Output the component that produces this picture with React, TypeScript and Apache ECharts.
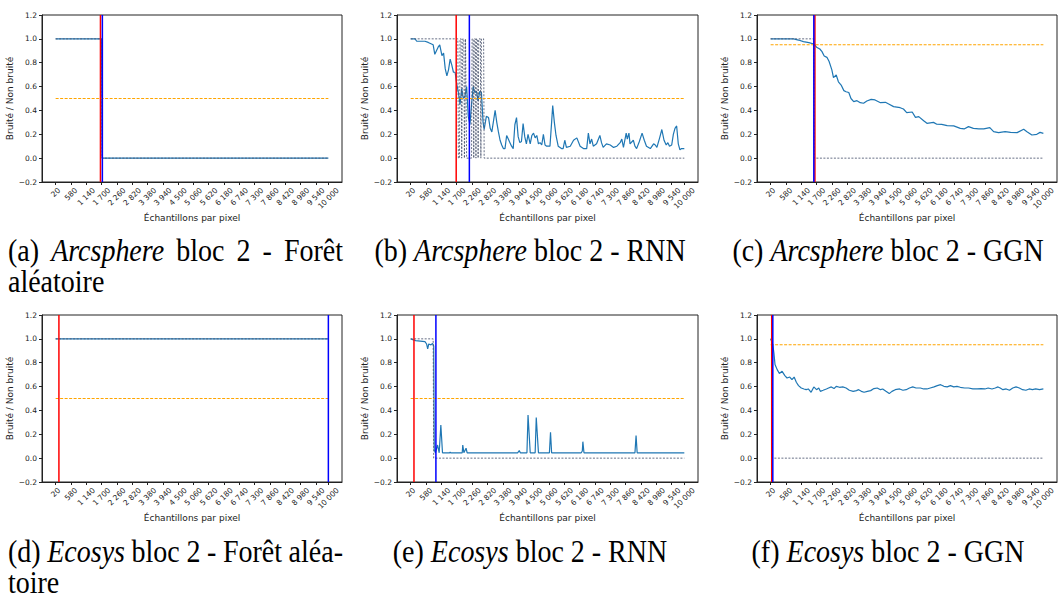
import React, { useEffect, useRef } from 'react';
import * as echarts from 'echarts';

// ---------- axes ----------
const TICK_VALUES = [20, 580, 1140, 1700, 2260, 2820, 3380, 3940, 4500, 5060, 5620, 6180, 6740, 7300, 7860, 8420, 8980, 9540, 10000];
const TICK_LABELS = ['20', '580', '1 140', '1 700', '2 260', '2 820', '3 380', '3 940', '4 500', '5 060', '5 620', '6 180', '6 740', '7 300', '7 860', '8 420', '8 980', '9 540', '10 000'];
const X_AXIS_MIN = -479;
const X_AXIS_MAX = 10499;
const X_FIRST = 20;
const X_LAST = 10000;
const Y_MIN = -0.2;
const Y_MAX = 1.2;
const Y_STEP = 0.2;
const X_TITLE = 'Échantillons par pixel';
const Y_TITLE = 'Bruité / Non bruité';

// ---------- (a) Arcsphere - Forêt aléatoire ----------
const aProbX = [20, 1700, 1720, 10000];
const aProbY = [1, 1, 0, 0];
const aPredX = [20, 1700, 1720, 10000];
const aPredY = [1, 1, 0, 0];
const aThreshold = 0.5;
const aRed = 1660;
const aBlue = 1730;

// ---------- (b) Arcsphere - RNN ----------
const bProbX = [20, 180, 240, 540, 660, 840, 900, 1020, 1080, 1160, 1220, 1280, 1340, 1400, 1460, 1520, 1580, 1640, 1700, 1760, 1820, 1880, 1940, 2000, 2060, 2120, 2180, 2240, 2300, 2360, 2420, 2480, 2540, 2600, 2660, 2700, 2780, 2860, 2920, 2980, 3100, 3160, 3220, 3280, 3340, 3400, 3460, 3520, 3580, 3640, 3700, 3760, 3820, 3880, 3940, 4000, 4060, 4120, 4180, 4240, 4300, 4380, 4440, 4500, 4560, 4620, 4680, 4740, 4800, 4860, 4920, 4980, 5100, 5160, 5200, 5260, 5320, 5400, 5520, 5580, 5640, 5700, 5840, 5960, 6080, 6200, 6320, 6440, 6500, 6560, 6620, 6680, 6800, 6920, 6980, 7040, 7160, 7300, 7420, 7540, 7660, 7720, 7780, 7880, 7920, 7980, 8020, 8140, 8200, 8260, 8360, 8460, 8540, 8620, 8760, 8880, 8940, 9000, 9100, 9180, 9260, 9340, 9400, 9460, 9540, 9600, 9660, 9720, 9780, 9840, 9900, 10000];
const bProbY = [1.0, 1.0, 0.98, 0.98, 0.97, 0.95, 0.87, 0.93, 0.95, 0.86, 0.88, 0.75, 0.69, 0.74, 0.83, 0.78, 0.72, 0.72, 0.62, 0.55, 0.45, 0.58, 0.5, 0.52, 0.6, 0.35, 0.28, 0.45, 0.6, 0.55, 0.56, 0.48, 0.56, 0.55, 0.3, 0.24, 0.35, 0.34, 0.25, 0.22, 0.4, 0.3, 0.22, 0.15, 0.11, 0.08, 0.08, 0.19, 0.16, 0.13, 0.1, 0.08, 0.28, 0.34, 0.18, 0.13, 0.14, 0.29, 0.18, 0.12, 0.2, 0.12, 0.19, 0.21, 0.17, 0.19, 0.12, 0.13, 0.11, 0.2, 0.11, 0.1, 0.1, 0.3, 0.44, 0.3, 0.19, 0.1, 0.08, 0.08, 0.15, 0.09, 0.1, 0.15, 0.17, 0.1, 0.08, 0.08, 0.21, 0.12, 0.16, 0.1, 0.12, 0.19, 0.13, 0.09, 0.12, 0.11, 0.09, 0.1, 0.13, 0.16, 0.09, 0.21, 0.16, 0.21, 0.12, 0.15, 0.1, 0.08, 0.14, 0.21, 0.15, 0.1, 0.08, 0.12, 0.11, 0.09, 0.17, 0.24, 0.15, 0.11, 0.13, 0.1, 0.11, 0.2, 0.25, 0.27, 0.12, 0.07, 0.08, 0.08];
const bPredX = [20, 1740, 1760, 1800, 1820, 1860, 1880, 1900, 1920, 1960, 1980, 2000, 2020, 2040, 2060, 2240, 2260, 2300, 2320, 2340, 2380, 2400, 2420, 2460, 2480, 2500, 2560, 2580, 2600, 2680, 2700, 10000];
const bPredY = [1, 1, 0, 0, 1, 1, 0, 0, 1, 1, 0, 0, 1, 1, 0, 0, 1, 1, 0, 1, 1, 0, 1, 1, 0, 1, 1, 0, 1, 1, 0, 0];
const bThreshold = 0.5;
const bRed = 1680;
const bBlue = 2160;

// ---------- (c) Arcsphere - GGN ----------
const cProbX = [20, 860, 1040, 1220, 1420, 1600, 1700, 1820, 1900, 1980, 2080, 2160, 2260, 2320, 2420, 2500, 2600, 2700, 2780, 2880, 2960, 3060, 3180, 3300, 3420, 3540, 3700, 3840, 4040, 4220, 4340, 4520, 4760, 4880, 5000, 5200, 5320, 5440, 5620, 5740, 5980, 6100, 6280, 6480, 6720, 6960, 7100, 7260, 7440, 7640, 7820, 8040, 8180, 8360, 8600, 8800, 9040, 9280, 9400, 9580, 9760, 9880, 10000];
const cProbY = [1.0, 1.0, 0.99, 0.977, 0.968, 0.957, 0.93, 0.915, 0.893, 0.857, 0.845, 0.81, 0.74, 0.675, 0.697, 0.64, 0.613, 0.566, 0.557, 0.55, 0.5, 0.474, 0.482, 0.465, 0.46, 0.479, 0.493, 0.488, 0.465, 0.468, 0.454, 0.432, 0.423, 0.412, 0.382, 0.387, 0.342, 0.348, 0.314, 0.292, 0.3, 0.284, 0.283, 0.272, 0.27, 0.25, 0.245, 0.264, 0.25, 0.245, 0.245, 0.256, 0.222, 0.214, 0.222, 0.216, 0.214, 0.242, 0.222, 0.194, 0.2, 0.216, 0.208];
const cPredX = [20, 1600, 1620, 10000];
const cPredY = [1, 1, 0, 0];
const cThreshold = 0.95;
const cRed = 1640;
const cBlue = 1600;

// ---------- (d) Ecosys - Forêt aléatoire ----------
const dProbX = [20, 10000];
const dProbY = [1, 1];
const dPredX = [20, 10000];
const dPredY = [1, 1];
const dThreshold = 0.5;
const dRed = 140;
const dBlue = 10000;

// ---------- (e) Ecosys - RNN ----------
const eProbX = [20, 200, 540, 600, 640, 680, 760, 820, 860, 880, 920, 1000, 1060, 1120, 1180, 1440, 1460, 1480, 1900, 1920, 1960, 2040, 2080, 3920, 3980, 4020, 4260, 4300, 4380, 4560, 4600, 4680, 5080, 5120, 5160, 6240, 6280, 6300, 6340, 8200, 8240, 8280, 10000];
const eProbY = [1.0, 0.985, 0.976, 0.957, 0.915, 0.957, 0.95, 0.962, 0.94, 0.068, 0.045, 0.11, 0.045, 0.278, 0.045, 0.045, 0.05, 0.045, 0.045, 0.11, 0.045, 0.083, 0.045, 0.045, 0.063, 0.045, 0.045, 0.362, 0.045, 0.045, 0.34, 0.045, 0.045, 0.217, 0.045, 0.045, 0.06, 0.138, 0.045, 0.045, 0.189, 0.045, 0.045];
const ePredX = [20, 840, 860, 10000];
const ePredY = [1, 1, 0, 0];
const eThreshold = 0.5;
const eRed = 140;
const eBlue = 940;

// ---------- (f) Ecosys - GGN ----------
const fProbX = [20, 40, 100, 140, 180, 260, 340, 440, 540, 620, 720, 800, 880, 960, 1040, 1140, 1240, 1320, 1400, 1500, 1600, 1700, 1780, 1840, 1940, 2060, 2140, 2240, 2340, 2420, 2540, 2660, 2780, 2900, 3040, 3160, 3240, 3340, 3440, 3560, 3680, 3800, 3920, 4040, 4120, 4240, 4360, 4460, 4580, 4740, 4860, 4980, 5100, 5220, 5340, 5500, 5620, 5740, 5860, 6000, 6120, 6240, 6360, 6480, 6600, 6720, 6840, 6960, 7120, 7260, 7420, 7580, 7720, 7860, 7980, 8120, 8240, 8340, 8420, 8520, 8640, 8760, 8880, 9000, 9120, 9240, 9360, 9480, 9600, 9720, 9860, 10000];
const fProbY = [1.0, 1.0, 0.95, 0.88, 0.785, 0.742, 0.709, 0.728, 0.692, 0.672, 0.68, 0.658, 0.68, 0.636, 0.608, 0.588, 0.58, 0.574, 0.58, 0.552, 0.597, 0.574, 0.588, 0.56, 0.569, 0.58, 0.588, 0.597, 0.583, 0.602, 0.594, 0.597, 0.588, 0.569, 0.56, 0.566, 0.574, 0.56, 0.552, 0.56, 0.566, 0.583, 0.588, 0.574, 0.58, 0.56, 0.541, 0.56, 0.574, 0.58, 0.569, 0.574, 0.588, 0.597, 0.588, 0.588, 0.58, 0.58, 0.588, 0.597, 0.608, 0.616, 0.602, 0.597, 0.608, 0.597, 0.602, 0.594, 0.588, 0.588, 0.58, 0.58, 0.583, 0.58, 0.588, 0.58, 0.588, 0.597, 0.588, 0.574, 0.58, 0.569, 0.588, 0.597, 0.588, 0.574, 0.569, 0.58, 0.574, 0.58, 0.574, 0.58];
const fPredX = [20, 60, 80, 10000];
const fPredY = [1, 1, 0, 0];
const fThreshold = 0.95;
const fRed = 60;
const fBlue = 100;

// ---------- captions ----------
const CAPTION_LINES = [
  '(a) {i|Arcsphere} bloc 2 - Forêt',
  'aléatoire',
  '(b) {i|Arcsphere} bloc 2 - RNN',
  '(c) {i|Arcsphere} bloc 2 - GGN',
  '(d) {i|Ecosys} bloc 2 - Forêt aléa-',
  'toire',
  '(e) {i|Ecosys} bloc 2 - RNN',
  '(f) {i|Ecosys} bloc 2 - GGN',
];

// ---------- layout & style ----------
const COL_LEFT = [42, 397, 757];
const COL_WIDTH = [300, 301, 300];
const ROW_TOP = [15, 315];
const PLOT_H = 167;
// [x, y, mode, justified width]
const CAPTION_POS: [number, number, string, number][] = [
  [8, 250, 'justify', 335], [8, 281, 'left', 0], [530, 250, 'center', 0], [888, 250, 'center', 0],
  [8, 551, 'justify', 335], [8, 582, 'left', 0], [530, 551, 'center', 0], [888, 551, 'center', 0],
];
const CAP_FONT = 32;
const CAP_SCALE_X = 0.875;
const CAP_FAMILY = 'Liberation Serif';
const TICK_FONT = 7.5;
const TEXT = '#222';
const PROB_COLOR = '#1f77b4';
const PRED_COLOR = '#4b5670';
const THR_COLOR = '#ffa500';

const zip = (xs: number[], ys: number[]) => xs.map((x, i) => [x, ys[i]]);

const PANELS = [
  { col: 0, row: 0, prob: zip(aProbX, aProbY), pred: zip(aPredX, aPredY), thr: aThreshold, red: aRed, blue: aBlue },
  { col: 1, row: 0, prob: zip(bProbX, bProbY), pred: zip(bPredX, bPredY), thr: bThreshold, red: bRed, blue: bBlue },
  { col: 2, row: 0, prob: zip(cProbX, cProbY), pred: zip(cPredX, cPredY), thr: cThreshold, red: cRed, blue: cBlue },
  { col: 0, row: 1, prob: zip(dProbX, dProbY), pred: zip(dPredX, dPredY), thr: dThreshold, red: dRed, blue: dBlue },
  { col: 1, row: 1, prob: zip(eProbX, eProbY), pred: zip(ePredX, ePredY), thr: eThreshold, red: eRed, blue: eBlue },
  { col: 2, row: 1, prob: zip(fProbX, fProbY), pred: zip(fPredX, fPredY), thr: fThreshold, red: fRed, blue: fBlue },
];

const ctx = typeof document !== 'undefined' ? document.createElement('canvas').getContext('2d') : null;
function measure(s: string, font: string, fallbackSize: number): number {
  if (!ctx) return s.length * fallbackSize * 0.5;
  ctx.font = font;
  return ctx.measureText(s).width;
}

function captionGraphics(): any[] {
  const out: any[] = [];
  const rich = { i: { fontFamily: CAP_FAMILY, fontSize: CAP_FONT, fontStyle: 'italic', fill: '#000' } };
  CAPTION_LINES.forEach((line, k) => {
    const [x, y, mode, boxW] = CAPTION_POS[k];
    if (mode === 'justify') {
      const words = line.split(' ').map((w) => {
        const m = w.match(/^\{i\|(.*)\}$/);
        return m ? { t: m[1], it: true } : { t: w, it: false };
      });
      const widths = words.map((w) => CAP_SCALE_X * measure(w.t, `${w.it ? 'italic ' : ''}${CAP_FONT}px "${CAP_FAMILY}"`, CAP_FONT));
      const total = widths.reduce((s, v) => s + v, 0);
      const gap = (boxW - total) / (words.length - 1);
      let cx = x;
      words.forEach((w, j) => {
        out.push({
          type: 'text', x: cx, y, scaleX: CAP_SCALE_X, silent: true,
          style: { text: w.t, fontFamily: CAP_FAMILY, fontSize: CAP_FONT, fontStyle: w.it ? 'italic' : 'normal', fill: '#000', verticalAlign: 'middle', align: 'left' },
        });
        cx += widths[j] + gap;
      });
    } else {
      out.push({
        type: 'text', x, y, scaleX: CAP_SCALE_X, silent: true,
        style: { text: line, fontFamily: CAP_FAMILY, fontSize: CAP_FONT, fill: '#000', verticalAlign: 'middle', align: mode === 'center' ? 'center' : 'left', rich },
      });
    }
  });
  return out;
}

function buildOption() {
  const grids: any[] = [];
  const xAxes: any[] = [];
  const yAxes: any[] = [];
  const series: any[] = [];
  const labelWidths = TICK_LABELS.map((s) => measure(s, `${TICK_FONT}px "DejaVu Sans"`, TICK_FONT * 1.2));

  PANELS.forEach((p, i) => {
    const w = COL_WIDTH[p.col];
    grids.push({
      left: COL_LEFT[p.col], top: ROW_TOP[p.row], width: w, height: PLOT_H,
      show: true, borderColor: '#222', borderWidth: 1, backgroundColor: 'transparent',
    });
    // matplotlib centres a 45° label on its tick: shift the label anchor right by half its horizontal extent
    const unitsPerPx = (X_AXIS_MAX - X_AXIS_MIN) / w;
    const labelVals = TICK_VALUES.map((v, k) => v + 0.354 * labelWidths[k] * unitsPerPx);
    xAxes.push({
      type: 'value', gridIndex: i, min: X_AXIS_MIN, max: X_AXIS_MAX,
      name: X_TITLE, nameLocation: 'middle', nameGap: 26,
      nameTextStyle: { fontFamily: 'DejaVu Sans', fontSize: 9, color: TEXT },
      axisLine: { show: true, onZero: false, lineStyle: { color: '#222', width: 1 } },
      axisTick: { show: true, customValues: TICK_VALUES, length: 3, lineStyle: { color: '#222' } },
      axisLabel: {
        customValues: labelVals, rotate: 45, margin: 7, interval: 0,
        fontFamily: 'DejaVu Sans', fontSize: TICK_FONT, color: TEXT,
        formatter: (val: number) => {
          let best = 0;
          let bd = Infinity;
          labelVals.forEach((lv, k) => { const d = Math.abs(lv - val); if (d < bd) { bd = d; best = k; } });
          return TICK_LABELS[best];
        },
      },
      splitLine: { show: false },
    });
    yAxes.push({
      type: 'value', gridIndex: i, min: Y_MIN, max: Y_MAX, interval: Y_STEP,
      name: Y_TITLE, nameLocation: 'middle', nameGap: 18,
      nameTextStyle: { fontFamily: 'DejaVu Sans', fontSize: 9, color: TEXT },
      axisLine: { show: true, onZero: false, lineStyle: { color: '#222', width: 1 } },
      axisTick: { show: true, length: 3, lineStyle: { color: '#222' } },
      axisLabel: {
        margin: 5, fontFamily: 'DejaVu Sans', fontSize: TICK_FONT, color: TEXT,
        formatter: (v: number) => v.toFixed(1).replace('-', '−'),
      },
      splitLine: { show: false },
    });
    const base = { type: 'line', xAxisIndex: i, yAxisIndex: i, showSymbol: false, symbol: 'none', silent: true, clip: true };
    series.push({ ...base, data: p.prob, lineStyle: { color: PROB_COLOR, width: 1.2 } });
    series.push({ ...base, data: p.pred, lineStyle: { color: PRED_COLOR, width: 1, type: [2, 1.5], opacity: 0.85 } });
    series.push({ ...base, data: [[X_FIRST, p.thr], [X_LAST, p.thr]], lineStyle: { color: THR_COLOR, width: 1.1, type: [3, 1.5] } });
    series.push({ ...base, data: [[p.red, Y_MIN], [p.red, Y_MAX]], lineStyle: { color: '#ff0000', width: 1.5 } });
    series.push({ ...base, data: [[p.blue, Y_MIN], [p.blue, Y_MAX]], lineStyle: { color: '#0000ff', width: 1.5 } });
  });

  return { animation: false, backgroundColor: '#fff', grid: grids, xAxis: xAxes, yAxis: yAxes, series, graphic: captionGraphics() };
}

export default function App() {
  const ref = useRef<HTMLDivElement>(null);
  useEffect(() => {
    if (!ref.current) return;
    const chart = echarts.init(ref.current, null, { renderer: 'svg' });
    chart.setOption(buildOption() as any);
    return () => chart.dispose();
  }, []);
  return <div ref={ref} style={{ position: 'absolute', left: 0, top: 0, width: 1058, height: 601, background: '#fff' }} />;
}
